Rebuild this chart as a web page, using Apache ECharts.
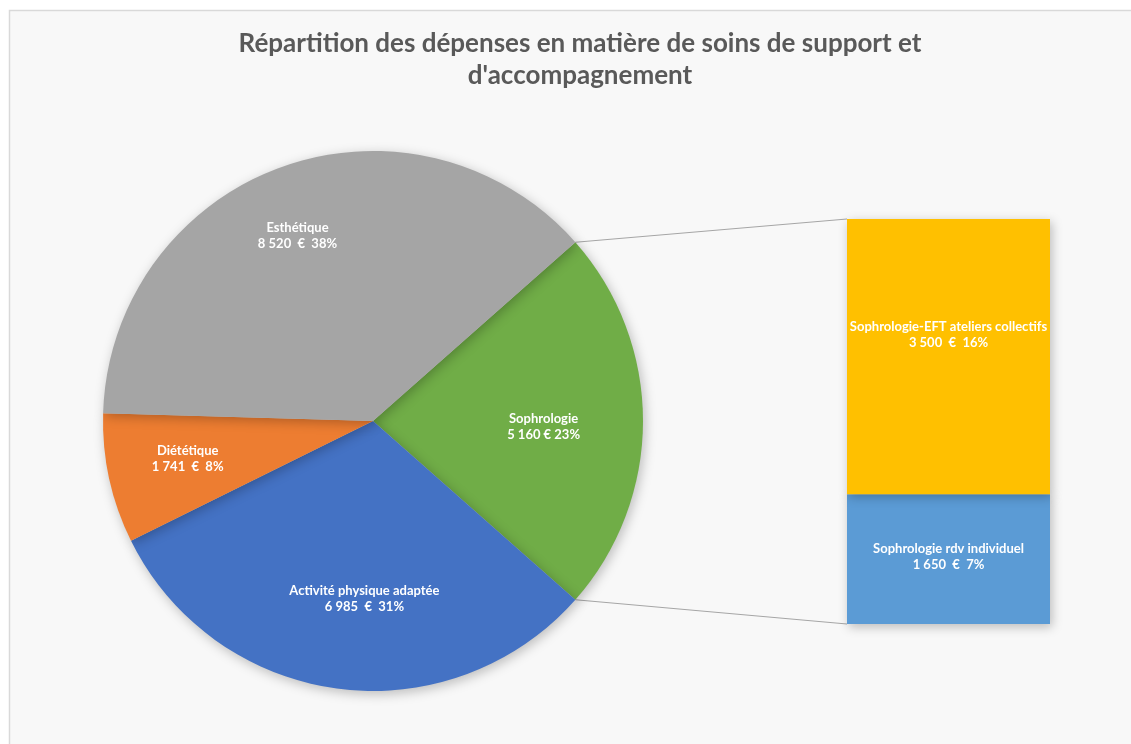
<!DOCTYPE html>
<html>
<head>
<meta charset="utf-8">
<script src="https://cdn.jsdelivr.net/npm/echarts@6/dist/echarts.min.js"></script>
<style>
  html, body { margin: 0; padding: 0; background: #ffffff; }
  #main { width: 1131px; height: 744px; }
</style>
</head>
<body>
<div id="main"></div>
<script>
// données du camembert
var pieNames = ['Sophrologie', 'Activité physique adaptée', 'Diététique', 'Esthétique'];
var pieValues = [5160, 6985, 1741, 8520];
var pieColors = ['#70AD47', '#4472C4', '#ED7D31', '#A5A5A5'];

// détail de la sophrologie (barre empilée)
var barNames = ['Sophrologie rdv individuel', 'Sophrologie-EFT ateliers collectifs'];
var barValues = [1650, 3500];
var barColors = ['#5B9BD5', '#FFC000'];

var total = pieValues.reduce(function (a, b) { return a + b; }, 0);
var barTotal = barValues.reduce(function (a, b) { return a + b; }, 0);

var cx = 373, cy = 421, R = 270;
var gridLeft = 847, gridTop = 219, gridWidth = 203, gridHeight = 405;
// la part Sophrologie est centrée à droite
var startAngle = pieValues[0] / total * 360 / 2;

function fmt(v) {
  return String(v).replace(/\B(?=(\d{3})+(?!\d))/g, ' ');
}
function pct(v) {
  return Math.round(v / total * 100) + '%';
}

var labelStyle = {
  color: '#ffffff',
  fontFamily: 'Lato',
  fontWeight: 'bold',
  fontSize: 13,
  lineHeight: 16
};

var chartDom = document.getElementById('main');
var myChart = echarts.init(chartDom);

var pieData = pieNames.map(function (n, i) {
  return { name: n, value: pieValues[i], itemStyle: { color: pieColors[i] } };
});

var barSeries = barNames.map(function (n, i) {
  return {
    name: n,
    type: 'bar',
    stack: 'total',
    barWidth: '100%',
    data: [barValues[i]],
    itemStyle: {
      color: barColors[i],
      shadowBlur: 10,
      shadowColor: 'rgba(0,0,0,0.25)',
      shadowOffsetX: 2,
      shadowOffsetY: 3
    },
    label: Object.assign({
      show: true,
      position: 'inside',
      offset: i === 1 ? [0, -22] : [0, -2],
      formatter: function (p) {
        return n + '\n' + fmt(p.value) + '  €  ' + pct(p.value);
      }
    }, labelStyle),
    silent: true
  };
});

// lignes de liaison entre la part Sophrologie et la barre
var a = startAngle * Math.PI / 180;
var topPt = [cx + R * Math.cos(a), cy - R * Math.sin(a)];
var botPt = [cx + R * Math.cos(a), cy + R * Math.sin(a)];

var option = {
  backgroundColor: '#ffffff',
  animation: false,
  title: {
    text: "Répartition des dépenses en matière de soins de support et\nd'accompagnement",
    left: 575,
    top: 23,
    textAlign: 'center',
    textStyle: {
      color: '#595959',
      fontFamily: 'Lato',
      fontWeight: 'bold',
      fontSize: 26,
      lineHeight: 32
    }
  },
  graphic: [
    {
      type: 'rect',
      z: -10,
      shape: { x: 9.5, y: 10.5, width: 1200, height: 800 },
      style: { fill: '#f8f8f8', stroke: '#d9d9d9', lineWidth: 1.5 }
    },
    {
      type: 'line',
      shape: { x1: topPt[0], y1: topPt[1], x2: gridLeft, y2: gridTop },
      style: { stroke: '#a6a6a6', lineWidth: 1 }
    },
    {
      type: 'line',
      shape: { x1: botPt[0], y1: botPt[1], x2: gridLeft, y2: gridTop + gridHeight },
      style: { stroke: '#a6a6a6', lineWidth: 1 }
    }
  ],
  grid: { left: gridLeft, top: gridTop, width: gridWidth, height: gridHeight },
  xAxis: { type: 'category', data: ['Sophrologie'], show: false },
  yAxis: { type: 'value', min: 0, max: barTotal, show: false, splitLine: { show: false } },
  series: [
    {
      type: 'pie',
      center: [cx, cy],
      radius: [0, R],
      startAngle: startAngle,
      clockwise: true,
      data: pieData,
      label: { show: false },
      labelLine: { show: false },
      itemStyle: {
        shadowBlur: 12,
        shadowColor: 'rgba(0,0,0,0.25)',
        shadowOffsetX: 2,
        shadowOffsetY: 3
      },
      silent: true
    },
    {
      // couche des étiquettes, placées plus loin du centre
      type: 'pie',
      center: [cx, cy],
      radius: [R * 0.36, R],
      startAngle: startAngle,
      clockwise: true,
      data: pieData.map(function (d) {
        return { name: d.name, value: d.value, itemStyle: { color: 'rgba(0,0,0,0)' } };
      }),
      label: Object.assign({
        show: true,
        position: 'inside',
        formatter: function (p) {
          var sep = p.name === 'Sophrologie' ? ' € ' : '  €  ';
          return p.name + '\n' + fmt(p.value) + sep + pct(p.value);
        }
      }, labelStyle),
      labelLayout: function (p) {
        // petits décalages pour coller au placement d'origine
        var shifts = [[-16, 6], [16, -7], [-3, -2], [-12, -10]];
        var s = shifts[p.dataIndex];
        return { dx: s[0], dy: s[1] };
      },
      labelLine: { show: false },
      silent: true,
      z: 5
    }
  ].concat(barSeries)
};

option && myChart.setOption(option);

window.addEventListener('resize', function () {
  myChart.resize();
});
</script>
</body>
</html>
